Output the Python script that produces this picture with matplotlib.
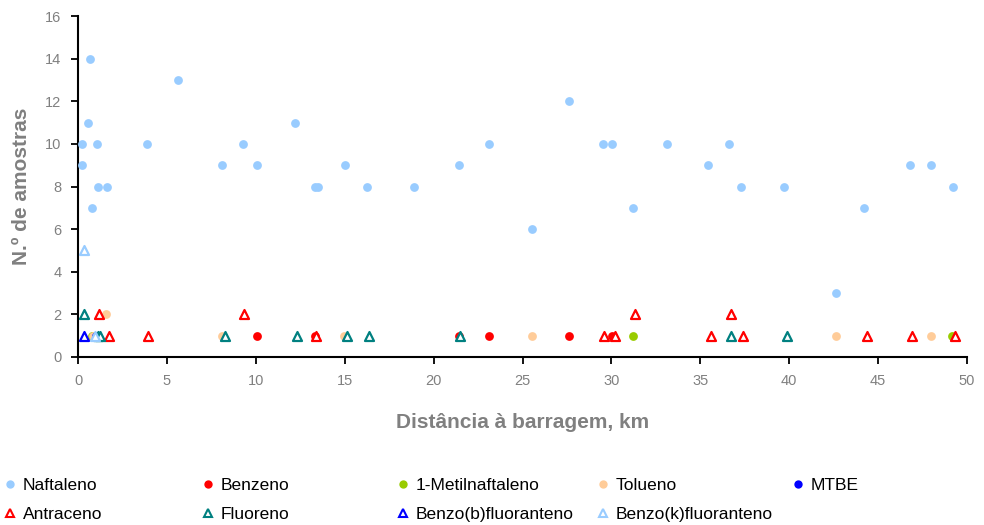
import matplotlib.pyplot as plt
from matplotlib.lines import Line2D

plt.rcParams['font.family'] = ['Liberation Sans', 'DejaVu Sans']

# distância (km) e n.º de amostras por composto
naft_x = [0.24, 0.24, 0.58, 0.69, 0.79, 1.05, 1.14, 1.61, 3.9, 5.6, 8.12, 9.25, 10.05,
          12.2, 13.3, 13.5, 15.0, 16.25, 18.9, 21.4, 23.1, 25.55, 27.6, 29.5, 30.05,
          31.2, 33.1, 35.45, 36.6, 37.3, 39.7, 42.65, 44.2, 46.8, 47.95, 49.2]
naft_y = [10, 9, 11, 14, 7, 10, 8, 8, 10, 13, 9, 10, 9,
          11, 8, 8, 9, 8, 8, 9, 10, 6, 12, 10, 10,
          7, 10, 9, 10, 8, 8, 3, 7, 9, 9, 8]

benz_x = [10.05, 13.3, 21.4, 23.1, 27.6, 30.05]
benz_y = [1, 1, 1, 1, 1, 1]

metil_x = [0.77, 31.2, 49.15]
metil_y = [1, 1, 1]

tol_x = [0.85, 1.6, 8.1, 14.95, 25.55, 42.65, 47.95]
tol_y = [1, 2, 1, 1, 1, 1, 1]

mtbe_x = [1.0]
mtbe_y = [1]

antr_x = [1.2, 1.75, 3.95, 9.35, 13.4, 29.6, 30.2, 31.3, 35.6, 36.7, 37.4, 44.35, 46.9, 49.3]
antr_y = [2, 1, 1, 2, 1, 1, 1, 2, 1, 2, 1, 1, 1, 1]

fluor_x = [0.35, 1.15, 1.25, 8.25, 12.3, 15.1, 16.35, 21.5, 36.7, 39.85]
fluor_y = [2, 1, 1, 1, 1, 1, 1, 1, 1, 1]

bb_x = [0.35]
bb_y = [1]

bk_x = [0.35, 0.95]
bk_y = [5, 1]

fig = plt.figure(figsize=(9.84, 5.25), dpi=100)
ax = fig.add_axes([0.0793, 0.32, 0.9035, 0.6495])

circ = dict(marker='o', s=40, linewidths=0, zorder=3)
tri = dict(marker='^', s=42, facecolors='white', linewidths=1.6, zorder=4)

ax.scatter(naft_x, naft_y, color='#99ccff', **circ)
ax.scatter(benz_x, benz_y, color='#ff0000', **circ)
ax.scatter(metil_x, metil_y, color='#99cc00', **circ)
ax.scatter(tol_x, tol_y, color='#ffcc99', **circ)
ax.scatter(mtbe_x, mtbe_y, color='#0000ff', **circ)
ax.scatter(antr_x, antr_y, edgecolors='#ff0000', **tri)
ax.scatter(fluor_x, fluor_y, edgecolors='#008080', **tri)
ax.scatter(bb_x, bb_y, edgecolors='#0000ff', **tri)
ax.scatter(bk_x, bk_y, edgecolors='#99ccff', **tri)

ax.set_xlim(0, 50)
ax.set_ylim(0, 16)
ax.set_xticks(range(0, 51, 5))
ax.set_yticks(range(0, 17, 2))
for s in ['top', 'right']:
    ax.spines[s].set_visible(False)
for s in ['left', 'bottom']:
    ax.spines[s].set_linewidth(1.5)
ax.tick_params(direction='out', length=5, width=1.3, labelsize=10.5,
               labelcolor='#808080', pad=7)
ax.set_xlabel('Distância à barragem, km', fontsize=15, fontweight='bold',
              color='#808080', labelpad=18)
ax.set_ylabel('N.º de amostras', fontsize=15, fontweight='bold',
              color='#808080', labelpad=10)

def circ_h(c):
    return Line2D([], [], marker='o', ls='none', markersize=6,
                  markerfacecolor=c, markeredgewidth=0)

def tri_h(c):
    return Line2D([], [], marker='^', ls='none', markersize=6,
                  markerfacecolor='white', markeredgecolor=c, markeredgewidth=1.5)

colunas = [
    [(circ_h('#99ccff'), 'Naftaleno'), (tri_h('#ff0000'), 'Antraceno')],
    [(circ_h('#ff0000'), 'Benzeno'), (tri_h('#008080'), 'Fluoreno')],
    [(circ_h('#99cc00'), '1-Metilnaftaleno'), (tri_h('#0000ff'), 'Benzo(b)fluoranteno')],
    [(circ_h('#ffcc99'), 'Tolueno'), (tri_h('#99ccff'), 'Benzo(k)fluoranteno')],
    [(circ_h('#0000ff'), 'MTBE')],
]
xs = [0, 198, 393, 593, 788]
for x0, col in zip(xs, colunas):
    fig.legend([h for h, _ in col], [t for _, t in col], loc='upper left',
               bbox_to_anchor=(x0 / 984, 1 - 474 / 525), frameon=False,
               fontsize=12.5, handlelength=0.8, handletextpad=0.3,
               labelspacing=0.8, borderaxespad=0, borderpad=0.2)

fig.savefig('out.png', dpi=100)
